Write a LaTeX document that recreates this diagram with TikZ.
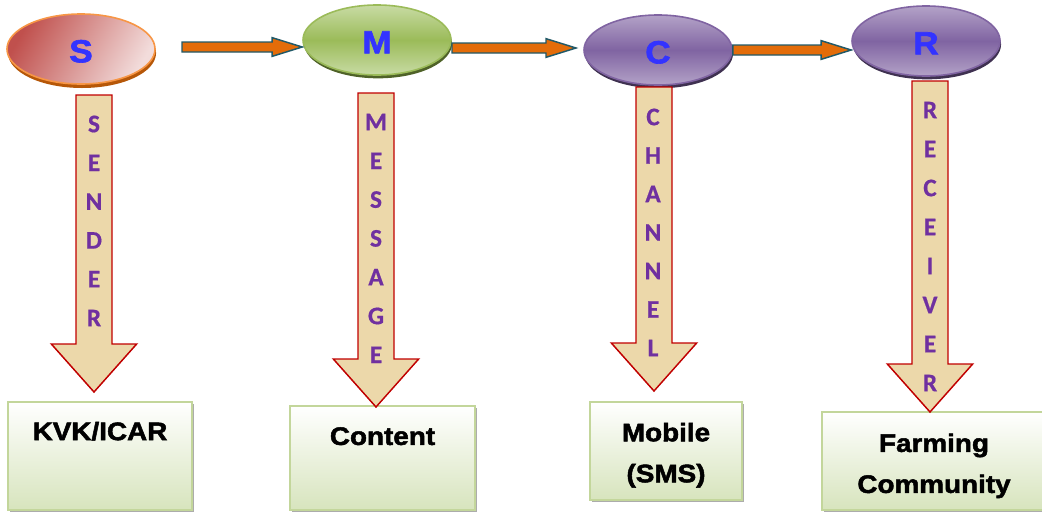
\documentclass[tikz,border=0pt]{standalone}
\usepackage{fontspec}
\setmainfont{Liberation Sans}
\newfontfamily\boxfont{Liberation Sans}[FakeStretch=1.1, BoldFeatures={FakeBold=2}]
\newfontfamily\letterfont{Carlito}[BoldFeatures={FakeBold=0.6}]
\usetikzlibrary{shapes.geometric,shadows,calc}

\definecolor{sdark}{HTML}{C0504D}
\definecolor{slight}{HTML}{F2DCDB}
\definecolor{sline}{HTML}{F79646}
\definecolor{sshadow}{HTML}{B65708}
\definecolor{mgreen}{HTML}{9BBB59}
\definecolor{mlight}{HTML}{C8DBA4}
\definecolor{mshadow}{HTML}{4F6228}
\definecolor{cpurple}{HTML}{8064A2}
\definecolor{clight}{HTML}{B3A2C7}
\definecolor{cshadow}{HTML}{3F3151}
\definecolor{letblue}{HTML}{3333FF}
\definecolor{letpurple}{HTML}{7030A0}
\definecolor{arrorange}{HTML}{E36C09}
\definecolor{arrline}{HTML}{215968}
\definecolor{parch}{HTML}{ECD8AA}
\definecolor{parchred}{HTML}{C00000}
\definecolor{boxgreen}{HTML}{D7E4BD}
\definecolor{boxline}{HTML}{C3D69B}

% block arrow to the right: #1 style, #2 start, #3 tip
\newcommand\hblock[3]{%
  \draw[#1] let \p1=(#2), \p2=(#3) in
    (\x1,\y1+3.75pt) -- (\x2-22.5pt,\y1+3.75pt) -- (\x2-22.5pt,\y1+7pt) -- (\x2,\y1)
    -- (\x2-22.5pt,\y1-7pt) -- (\x2-22.5pt,\y1-3.75pt) -- (\x1,\y1-3.75pt) -- cycle;}
% block arrow downwards: #1 top, #2 tip
\newcommand\vblock[2]{%
  \draw[downarr] let \p1=(#1), \p2=(#2) in
    (\x1-13.5pt,\y1) -- (\x1+13.5pt,\y1) -- (\x1+13.5pt,\y2+36pt) -- (\x1+32pt,\y2+36pt)
    -- (\x2,\y2) -- (\x1-32pt,\y2+36pt) -- (\x1-13.5pt,\y2+36pt) -- cycle;}

\begin{document}
\begin{tikzpicture}[x=0.75pt,y=-0.75pt,
    oval/.style={ellipse, minimum width=111pt, minimum height=52.5pt, inner sep=0pt,
      line width=1.2pt, text=letblue, text height=20pt, text depth=0pt,
      font=\boxfont\fontsize{24}{24}\selectfont\bfseries},
    stepbox/.style={draw=boxline, line width=1.2pt, top color=white, bottom color=boxgreen,
      inner sep=0pt, drop shadow={shadow xshift=1.5pt, shadow yshift=-1.5pt, fill=gray!65, opacity=1}},
    boxtext/.style={anchor=center, align=center, font=\boxfont\fontsize{19}{30.75}\selectfont\bfseries},
    rightarr/.style={fill=arrorange, draw=arrline, line width=1.1pt},
    downarr/.style={fill=parch, draw=parchred, line width=1.1pt},
    vl/.style={text=letpurple, inner sep=0pt, font=\letterfont\fontsize{19}{19}\selectfont\bfseries}]
    \useasboundingbox (0,0) rectangle (1042,511);

    % the four stages
    \node[oval, draw=sline, left color=sdark, right color=slight, shading angle=60,
      drop shadow={shadow xshift=0.8pt, shadow yshift=-3pt, fill=sshadow, opacity=1}] (S) at (81,49) {S};
    \node[oval, draw=mgreen, top color=mlight, bottom color=mlight, middle color=mgreen,
      drop shadow={shadow xshift=0.8pt, shadow yshift=-2.5pt, fill=mshadow, opacity=1}] (M) at (377,40) {M};
    \node[oval, draw=cpurple, top color=clight, bottom color=clight, middle color=cpurple,
      drop shadow={shadow xshift=0.8pt, shadow yshift=-2.5pt, fill=cshadow, opacity=1}] (C) at (658,50) {C};
    \node[oval, draw=cpurple, top color=clight, bottom color=clight, middle color=cpurple,
      drop shadow={shadow xshift=0.8pt, shadow yshift=-2.5pt, fill=cshadow, opacity=1}] (R) at (926,41) {R};

    % the four boxes
    \node[stepbox, minimum width=138pt, minimum height=81pt,
      label={[boxtext, yshift=-22.5pt]north:KVK/ICAR}] (kvk) at (100,456) {};
    \node[stepbox, minimum width=138.75pt, minimum height=78pt,
      label={[boxtext, yshift=-23.25pt]north:Content}] (content) at (382.5,458) {};
    \node[stepbox, minimum width=114pt, minimum height=73.5pt,
      label={[boxtext, yshift=-40.5pt]north:Mobile\\(SMS)}] (mobile) at (666,451) {};
    \node[stepbox, minimum width=168pt, minimum height=73.5pt,
      label={[boxtext, yshift=-41pt]north:Farming\\Community}] (farm) at (934,461) {};

    % arrows between the stages
    \coordinate (sm) at (182,47);
    \coordinate (mc) at (452,48);
    \coordinate (cin) at (576,48);
    \hblock{rightarr}{sm}{M.west}
    \hblock{rightarr}{mc}{cin}
    \hblock{rightarr}{C.east}{R.west}

    % arrows down to the boxes
    \coordinate (st) at (94,95);   \coordinate (sb) at (94,392);
    \coordinate (mt) at (376,93);  \coordinate (mb) at (376,407);
    \coordinate (ct) at (654,87);  \coordinate (cb) at (654,391);
    \coordinate (rt) at (930,81);  \coordinate (rb) at (930,412);
    \vblock{st}{sb}
    \vblock{mt}{mb}
    \vblock{ct}{cb}
    \vblock{rt}{rb}

    \foreach \l [count=\i from 0] in {S,E,N,D,E,R}
        \node[vl] (sl\i) at (94,124+38.8*\i) {\l};
    \foreach \l [count=\i from 0] in {M,E,S,S,A,G,E}
        \node[vl] (ml\i) at (376,122+38.8*\i) {\l};
    \foreach \l [count=\i from 0] in {C,H,A,N,N,E,L}
        \node[vl] (cl\i) at (653,117+38.5*\i) {\l};
    \foreach \l [count=\i from 0] in {R,E,C,E,I,V,E,R}
        \node[vl] (rl\i) at (930,110+39*\i) {\l};
\end{tikzpicture}
\end{document}
